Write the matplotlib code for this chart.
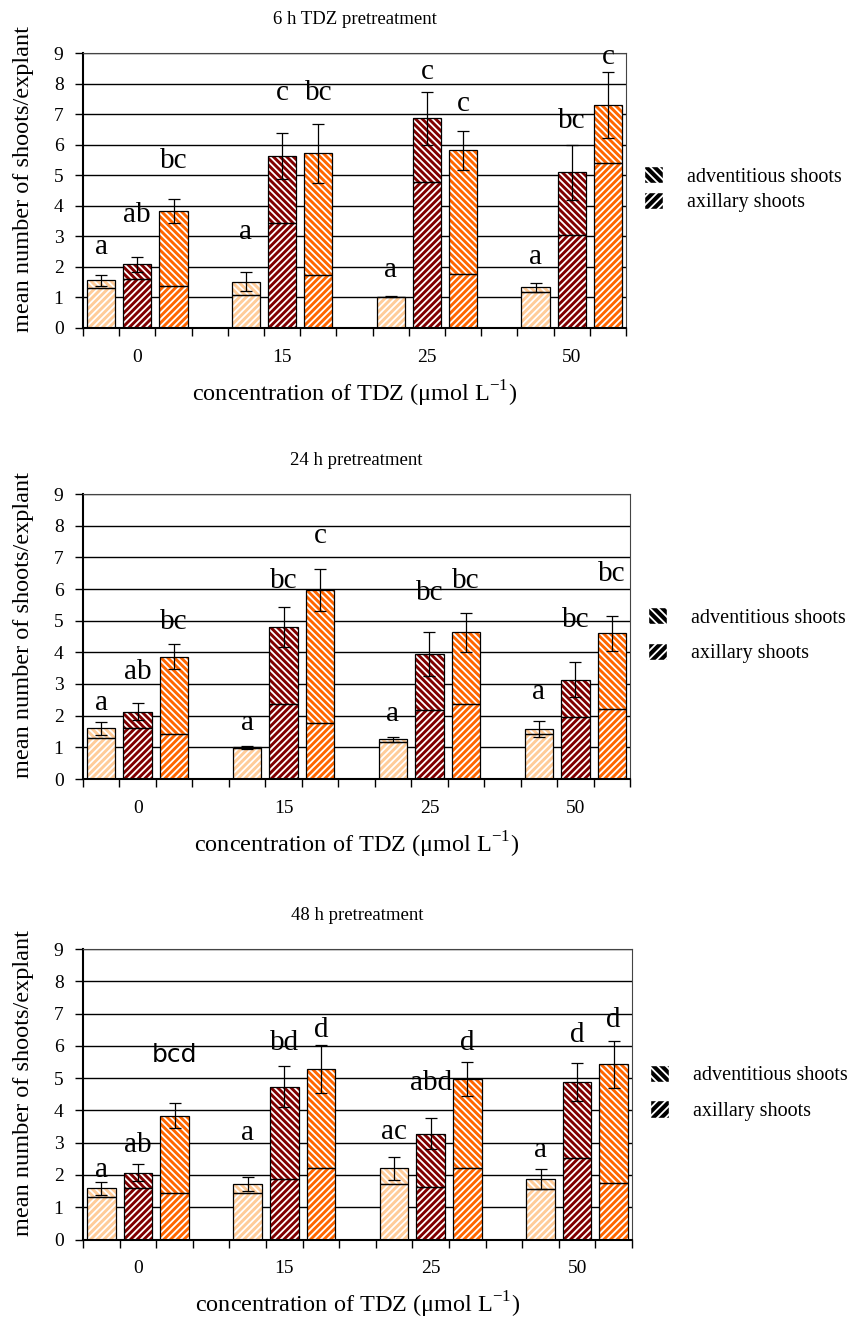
import numpy as np
import matplotlib
matplotlib.use('Agg')
import matplotlib.pyplot as plt
from matplotlib.patches import Patch

plt.rcParams['font.family'] = ['Liberation Serif', 'DejaVu Serif']
plt.rcParams['hatch.linewidth'] = 1.3

# categories on the x axis
conc = ['0', '15', '25', '50']
titles = ['6 h TDZ pretreatment', '24 h pretreatment', '48 h pretreatment']
bar_colors = ['#FFCC99', '#800000', '#FF6600']
legend_labels = ['adventitious shoots', 'axillary shoots']

# lower part of each bar (axillary shoots), 4 concentrations x 3 bars
axillary_6h = [1.30, 1.59, 1.39, 1.08, 3.43, 1.73, 1.00, 4.77, 1.77, 1.17, 3.04, 5.39]
axillary_24h = [1.31, 1.60, 1.42, 0.97, 2.37, 1.78, 1.18, 2.18, 2.38, 1.41, 1.97, 2.20]
axillary_48h = [1.31, 1.59, 1.43, 1.43, 1.88, 2.21, 1.71, 1.62, 2.22, 1.56, 2.51, 1.76]

# total height of each bar (axillary + adventitious)
total_6h = [1.57, 2.08, 3.84, 1.52, 5.63, 5.72, 1.03, 6.86, 5.82, 1.33, 5.09, 7.30]
total_24h = [1.60, 2.12, 3.86, 1.00, 4.80, 5.97, 1.25, 3.94, 4.63, 1.59, 3.14, 4.60]
total_48h = [1.59, 2.07, 3.84, 1.72, 4.74, 5.28, 2.20, 3.27, 4.97, 1.87, 4.88, 5.43]

# error of the total
err_6h = [0.18, 0.26, 0.39, 0.31, 0.74, 0.96, 0.02, 0.86, 0.64, 0.15, 0.91, 1.08]
err_24h = [0.21, 0.27, 0.39, 0.05, 0.63, 0.67, 0.07, 0.70, 0.62, 0.25, 0.55, 0.56]
err_48h = [0.20, 0.26, 0.38, 0.22, 0.65, 0.74, 0.36, 0.48, 0.53, 0.32, 0.58, 0.73]

# significance letters and the height they are written at
letters_6h = ['a', 'ab', 'bc', 'a', 'c', 'bc', 'a', 'c', 'c', 'a', 'bc', 'c']
letters_24h = ['a', 'ab', 'bc', 'a', 'bc', 'c', 'a', 'bc', 'bc', 'a', 'bc', 'bc']
letters_48h = ['a', 'ab', 'bcd', 'a', 'bd', 'd', 'ac', 'abd', 'd', 'a', 'd', 'd']
letter_y_6h = [2.66, 3.70, 5.47, 3.15, 7.68, 7.68, 1.90, 8.39, 7.33, 2.31, 6.78, 8.86]
letter_y_24h = [2.39, 3.39, 4.97, 1.76, 6.25, 7.68, 2.04, 5.88, 6.25, 2.76, 5.02, 6.46]
letter_y_48h = [2.16, 2.93, 5.72, 3.29, 6.08, 6.50, 3.34, 4.84, 6.08, 2.78, 6.34, 6.81]

panels = [
    (axillary_6h, total_6h, err_6h, letters_6h, letter_y_6h),
    (axillary_24h, total_24h, err_24h, letters_24h, letter_y_24h),
    (axillary_48h, total_48h, err_48h, letters_48h, letter_y_48h),
]

W, H = 854, 1319
fig = plt.figure(figsize=(W / 100, H / 100), dpi=100)

# axes boxes in pixels: left, right, top, bottom
boxes = [(83, 626, 53, 328), (83, 630, 494, 779), (83, 632, 949, 1239.5)]
leg_spacing = [0.25, 0.75, 0.75]

# 3 bars per concentration, one empty slot between groups
x = np.array([g * 4 + b for g in range(4) for b in range(3)])
colors = bar_colors * 4

for i, (axil, total, err, lets, lety) in enumerate(panels):
    l, r, t, b = boxes[i]
    ax = fig.add_axes([l / W, 1 - b / H, (r - l) / W, (b - t) / H])
    axil = np.array(axil)
    total = np.array(total)
    adv = total - axil

    ax.bar(x, axil, width=0.78, color=colors, edgecolor='white', hatch='/////', linewidth=0, zorder=2)
    ax.bar(x, adv, bottom=axil, width=0.78, color=colors, edgecolor='white', hatch='\\\\\\\\\\',
           linewidth=0, zorder=2)
    ax.bar(x, axil, width=0.78, fill=False, edgecolor='black', linewidth=0.9, zorder=3)
    ax.bar(x, adv, bottom=axil, width=0.78, fill=False, edgecolor='black', linewidth=0.9, zorder=3)
    ax.errorbar(x, total, yerr=err, fmt='none', ecolor='black', elinewidth=0.9,
                capsize=4, capthick=0.9, zorder=4)

    for xi, s, yv in zip(x, lets, lety):
        fam = 'DejaVu Sans' if s == 'bcd' else None
        ax.text(xi, yv, s, ha='center', va='center', fontsize=21 if fam is None else 18,
                family=fam, zorder=5)

    ax.set_xlim(-0.5, 14.5)
    ax.set_ylim(0, 9)
    ax.set_yticks(range(10))
    ax.yaxis.grid(True, color='black', linewidth=1.0)
    ax.set_axisbelow(True)
    ax.set_xticks(np.arange(-0.5, 15, 1))
    ax.set_xticklabels([])
    ax.set_xticks([1, 5, 9, 13], minor=True)
    ax.set_xticklabels(conc, minor=True)
    ax.tick_params(axis='x', which='major', direction='out', length=6, width=1)
    ax.tick_params(axis='x', which='minor', length=0, pad=15, labelsize=14)
    ax.tick_params(axis='y', direction='out', length=6, width=1, pad=8, labelsize=14)
    for side in ['top', 'right']:
        ax.spines[side].set_linewidth(0.8)
        ax.spines[side].set_color('#444444')
    ax.spines['left'].set_linewidth(1.5)
    ax.spines['bottom'].set_linewidth(1.5)

    ax.set_title(titles[i], fontsize=13.5, pad=21)
    ax.set_xlabel('concentration of TDZ (\u03bcmol L$^{\\mathregular{-1}}$)', fontsize=17.5, labelpad=9)
    ax.set_ylabel('mean number of shoots/explant', fontsize=17.5)
    ax.yaxis.set_label_coords(-0.09, 0.54)

    handles = [Patch(facecolor='black', edgecolor='white', hatch='\\\\\\\\'),
               Patch(facecolor='black', edgecolor='white', hatch='////')]
    ax.legend(handles, legend_labels, loc='center left', bbox_to_anchor=(1.0, 0.505),
              frameon=False, fontsize=14.5, handlelength=0.95, handleheight=0.95,
              labelspacing=leg_spacing[i], handletextpad=1.2)

fig.savefig('out.png', dpi=100)
